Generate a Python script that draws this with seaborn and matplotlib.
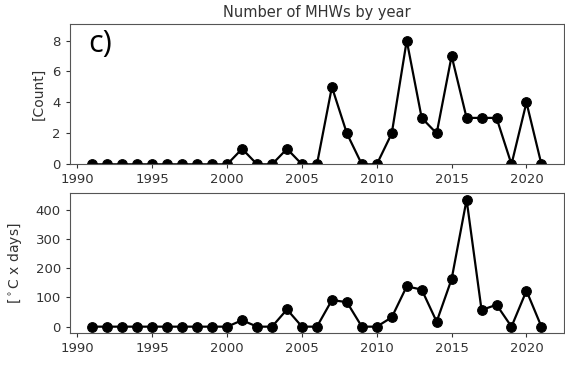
import matplotlib
matplotlib.use("Agg")
import matplotlib.pyplot as plt
import seaborn as sns
import pandas as pd

years = list(range(1991, 2022))
counts = [0, 0, 0, 0, 0, 0, 0, 0, 0, 0,
          1, 0, 0, 1, 0, 0, 5, 2, 0, 0,
          2, 8, 3, 2, 7, 3, 3, 3, 0, 4, 0]
intensity = [0, 0, 0, 0, 0, 0, 0, 0, 0, 0,
             22, 0, 0, 59, 0, 0, 91, 84, 0, 0,
             32, 138, 127, 17, 163, 435, 57, 75, 0, 123, 0]
xticks = [1990, 1995, 2000, 2005, 2010, 2015, 2020]

df = pd.DataFrame({"year": years, "count": counts, "intensity": intensity})

sns.set_style("ticks")
plt.rcParams["font.family"] = ["DejaVu Sans"]
txt = "#333333"
plt.rcParams.update({
    "text.color": txt, "axes.labelcolor": txt,
    "xtick.color": txt, "ytick.color": txt,
    "axes.edgecolor": "#555555",
    "xtick.labelsize": 9.5, "ytick.labelsize": 9.5,
    "xtick.major.size": 3, "ytick.major.size": 3,
})

fig = plt.figure(figsize=(5.65, 3.72), dpi=100)
ax1 = fig.add_axes([0.1239, 0.5583, 0.8741, 0.3764])
ax2 = fig.add_axes([0.1239, 0.1048, 0.8741, 0.3756])

kw = dict(color="black", marker="o", markersize=7, linewidth=1.6,
          markeredgecolor="black")
sns.lineplot(data=df, x="year", y="count", ax=ax1, **kw)
sns.lineplot(data=df, x="year", y="intensity", ax=ax2, **kw)

for ax in (ax1, ax2):
    ax.set_xlim(1989.5, 2022.5)
    ax.set_xticks(xticks)
    ax.set_xlabel("")
    for s in ax.spines.values():
        s.set_visible(True)

ax1.set_ylim(0, 9.05)
ax1.set_yticks([0, 2, 4, 6, 8])
ax2.set_ylim(-21.75, 456.75)
ax2.set_yticks([0, 100, 200, 300, 400])

ax1.set_ylabel("[Count]", fontsize=10)
ax1.yaxis.set_label_coords(-0.05, 0.5)
ax2.set_ylabel(r"[$^\circ$C x days]", fontsize=10)
ax2.yaxis.set_label_coords(-0.093, 0.5)

ax1.set_title("Number of MHWs by year", fontsize=10.5, pad=5)
ax1.text(0.036, 0.965, "c)", transform=ax1.transAxes, fontsize=22,
         va="top", ha="left", family=["Open Sans", "DejaVu Sans"], color="black")

fig.savefig("out.png", dpi=100)
